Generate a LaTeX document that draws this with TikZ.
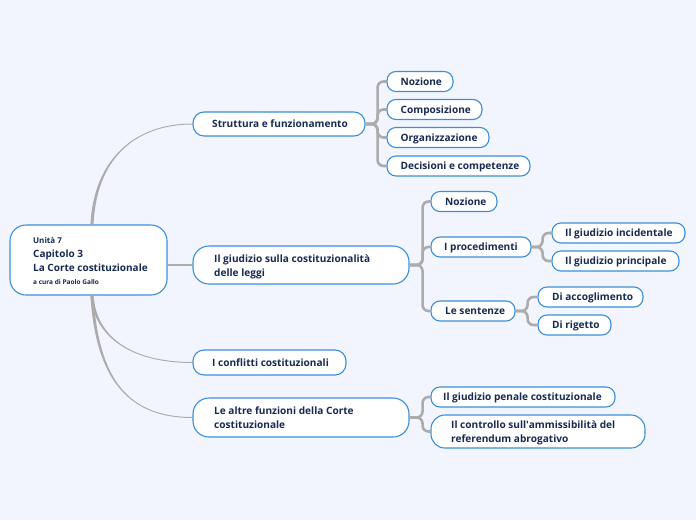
\documentclass[tikz,border=0pt]{standalone}
\usepackage{fontspec}
\setmainfont{Open Sans}
\usetikzlibrary{calc}
\definecolor{bg}{HTML}{F3F5FE}
\definecolor{bord}{HTML}{3B8FDA}
\definecolor{ink}{HTML}{172A52}
\definecolor{lnk}{HTML}{ACACAC}
\newcommand\mmconn[6]{%
  \fill[lnk] ($(#1)+(-1.6,0)$) .. controls ($(#2)+(-1.2,0)$) and ($(#3)+(0,#5)$) .. ($(#4)+(0,#5)$)
    -- ($(#4)+(0,#6)$) .. controls ($(#3)+(0,#6)$) and ($(#2)+(1.2,0)$) .. ($(#1)+(1.6,0)$) -- cycle;}
\begin{document}
\begin{tikzpicture}[x=1pt,y=-1pt,
  box/.style={draw=bord, line width=1.1pt, fill=white, rounded corners=#1, inner sep=0pt},
  box/.default=9pt,
  txt/.style={anchor=base west, inner sep=0pt, text=ink, font=\bfseries\fontsize{10.1}{14}\selectfont, align=left},
  branch/.style={draw=lnk, line width=2.6pt, rounded corners=6pt},
  thin/.style={draw=lnk, line width=1.3pt}]
\fill[bg] (0,0) rectangle (696,520);
\useasboundingbox (0,0) rectangle (696,520);

% boxes
\node[box=16pt, minimum width=157pt, minimum height=70pt] (root) at (88.5,260) {};
\node[box=11pt, minimum width=172pt, minimum height=24pt] (s) at (279,124) {};
\node[box, minimum width=66pt, minimum height=20pt] (s1) at (420,81.5) {};
\node[box, minimum width=95pt, minimum height=20pt] (s2) at (434.5,109.5) {};
\node[box, minimum width=102pt, minimum height=20pt] (s3) at (438,137.5) {};
\node[box, minimum width=143pt, minimum height=20pt] (s4) at (458.5,166) {};

\node[box=16pt, minimum width=216pt, minimum height=38pt] (g) at (301,265) {};
\node[box, minimum width=66pt, minimum height=20pt] (g1) at (464,201.5) {};
\node[box, minimum width=100pt, minimum height=20pt] (g2) at (481,247) {};
\node[box, minimum width=133pt, minimum height=20pt] (g21) at (618.5,233) {};
\node[box, minimum width=127pt, minimum height=20pt] (g22) at (615.5,261) {};
\node[box, minimum width=84pt, minimum height=20pt] (g3) at (473,311) {};
\node[box, minimum width=105pt, minimum height=20pt] (g31) at (590.5,297) {};
\node[box, minimum width=73pt, minimum height=20pt] (g32) at (574.5,325) {};

\node[box=11pt, minimum width=153pt, minimum height=25pt] (c) at (269.5,362.5) {};

\node[box=16pt, minimum width=216pt, minimum height=39pt] (a) at (301,417.5) {};
\node[box, minimum width=184pt, minimum height=20pt] (a1) at (523,397) {};
\node[box=14pt, minimum width=214pt, minimum height=33pt] (a2) at (538,431.5) {};

% texts (multi-line nodes: anchor at the baseline of the last line)
\node[txt, font=\bfseries\fontsize{8}{10}\selectfont] (t0a) at (33,243) {Unità 7};
\node[txt, font=\bfseries\fontsize{10}{13.5}\selectfont] (t0b) at (33,271) {Capitolo 3\\La Corte costituzionale};
\node[txt, font=\bfseries\fontsize{6.5}{8}\selectfont] (t0c) at (33,284) {a cura di Paolo Gallo};

\node[txt] at (212,127.5) {Struttura e funzionamento};
\node[txt] at (400.5,85) {Nozione};
\node[txt] at (400.5,113) {Composizione};
\node[txt] at (400.5,141) {Organizzazione};
\node[txt] at (400.5,169.5) {Decisioni e competenze};

\node[txt] at (214,276.5) {Il giudizio sulla costituzionalità\\delle leggi};
\node[txt] at (445,205) {Nozione};
\node[txt] at (444,250.5) {I procedimenti};
\node[txt] at (565,236.5) {Il giudizio incidentale};
\node[txt] at (565,264.5) {Il giudizio principale};
\node[txt] at (445,314.5) {Le sentenze};
\node[txt] at (552,300.5) {Di accoglimento};
\node[txt] at (552,328.5) {Di rigetto};

\node[txt] at (212,366) {I conflitti costituzionali};

\node[txt] at (214,428.5) {Le altre funzioni della Corte\\costituzionale};
\node[txt] at (443,400.5) {Il giudizio penale costituzionale};
\node[txt] at (451,442.5) {Il controllo sull\textquotesingle ammissibilità del\\referendum abrogativo};

% root connectors
\coordinate (rt) at ($(root.north)+(3.5,0)$);
\coordinate (rb) at ($(root.south)+(3.5,0)$);
\coordinate (k1) at ($(rt)+(3,-65)$);
\coordinate (k2) at ($(s.west)+(-58,0)$);
\mmconn{rt}{k1}{k2}{s.west}{-0.5}{0.5}
\coordinate (k3) at ($(rb)+(3,40)$);
\coordinate (k4) at ($(c.west)+(-63,0)$);
\mmconn{rb}{k3}{k4}{c.west}{0.5}{-0.5}
\coordinate (k5) at ($(rb)+(5,85)$);
\coordinate (k6) at ($(a.west)+(-63,0)$);
\mmconn{rb}{k5}{k6}{a.west}{0.5}{-0.5}
\draw[thin] (root.east |- g.west) -- (g.west);

% branches
\foreach \ch in {s1,s2,s3,s4} \draw[branch] (s.east) -- ++(12,0) |- (\ch.west);
\foreach \ch in {g1,g2,g3} \draw[branch] (g.east) -- ++(13,0) |- (\ch.west);
\foreach \ch in {g21,g22} \draw[branch] (g2.east) -- ++(11,0) |- (\ch.west);
\foreach \ch in {g31,g32} \draw[branch] (g3.east) -- ++(12,0) |- (\ch.west);
\foreach \ch in {a1,a2} \draw[branch] (a.east) -- ++(13,0) |- (\ch.west);
\end{tikzpicture}
\end{document}
